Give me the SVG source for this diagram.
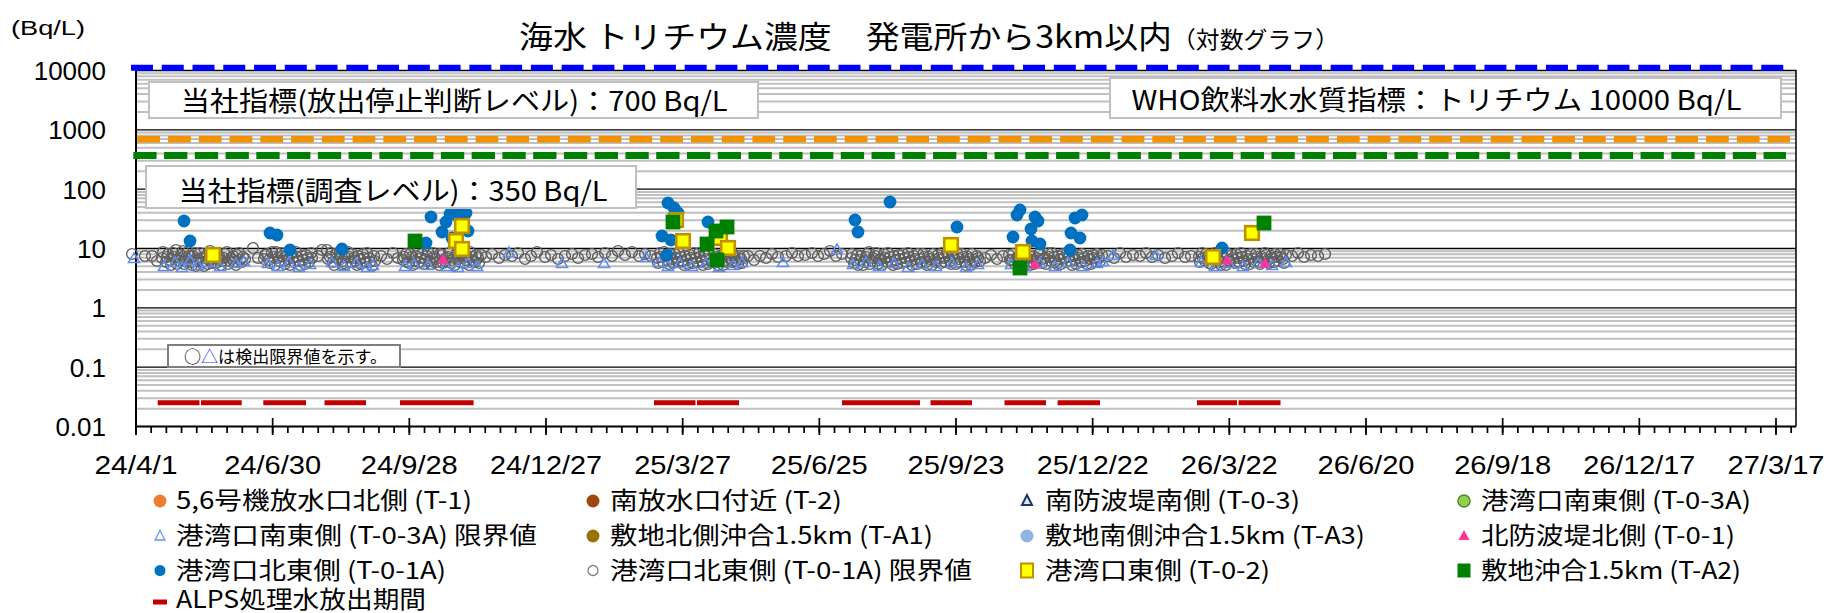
<svg xmlns="http://www.w3.org/2000/svg" width="1829" height="613" viewBox="0 0 1829 613">
<style>
text{font-family:"Liberation Sans","Noto Sans CJK JP",sans-serif;fill:#000}
.jp{font-family:"Noto Sans CJK JP","Noto Sans",sans-serif}
.ax{font-size:26px;text-anchor:end}
.xl{font-size:26px;text-anchor:middle}
.lg{font-size:24px}
.box{fill:#fff;stroke:#c0c0c0;stroke-width:2}
.s{fill:none;stroke:none}
</style>
<defs>
<marker id="mo" markerUnits="userSpaceOnUse" markerWidth="16" markerHeight="16" refX="8" refY="8" overflow="visible"><circle cx="8" cy="8" r="5.4" fill="none" stroke="#5f5f5f" stroke-width="1.4"/></marker>
<marker id="mt" markerUnits="userSpaceOnUse" markerWidth="16" markerHeight="16" refX="8" refY="8" overflow="visible"><path d="M8 3L13.6 12.6H2.4Z" fill="none" stroke="#5f8ef0" stroke-width="1.5"/></marker>
<marker id="mb" markerUnits="userSpaceOnUse" markerWidth="16" markerHeight="16" refX="8" refY="8" overflow="visible"><circle cx="8" cy="8" r="6.4" fill="#0070c0"/></marker>
<marker id="mp" markerUnits="userSpaceOnUse" markerWidth="16" markerHeight="16" refX="8" refY="8" overflow="visible"><path d="M8 2.6L13.8 12.6H2.2Z" fill="#ff3399"/></marker>
<marker id="my" markerUnits="userSpaceOnUse" markerWidth="16" markerHeight="16" refX="8" refY="8" overflow="visible"><rect x="1.2" y="1.2" width="13.6" height="13.6" fill="#ffff00" stroke="#bf9000" stroke-width="2.6"/></marker>
<marker id="mg" markerUnits="userSpaceOnUse" markerWidth="16" markerHeight="16" refX="8" refY="8" overflow="visible"><rect x="0.6" y="0.6" width="14.8" height="14.8" fill="#008000"/></marker>
</defs>
<rect width="1829" height="613" fill="#fff"/>

<g id="title">
<text class="jp" x="519" y="48" font-size="31" textLength="653" lengthAdjust="spacingAndGlyphs">海水 トリチウム濃度　発電所から3km以内</text>
<text class="jp" x="1172" y="48" font-size="23" textLength="167" lengthAdjust="spacingAndGlyphs">（対数グラフ）</text>
</g>
<text id="unit" x="11" y="34.5" font-size="20" textLength="74" lengthAdjust="spacingAndGlyphs">(Bq/L)</text>

<g id="gridlines">
<path fill="none" stroke="#c0c0c0" stroke-width="2" d="M136 73.21H1796M136 76.25H1796M136 79.69H1796M136 83.66H1796M136 88.36H1796M136 94.11H1796M136 101.52H1796M136 111.97H1796M136 132.54H1796M136 135.58H1796M136 139.02H1796M136 142.99H1796M136 147.69H1796M136 153.44H1796M136 160.85H1796M136 171.3H1796M136 191.88H1796M136 194.92H1796M136 198.36H1796M136 202.33H1796M136 207.03H1796M136 212.78H1796M136 220.19H1796M136 230.64H1796M136 251.21H1796M136 254.25H1796M136 257.69H1796M136 261.66H1796M136 266.36H1796M136 272.11H1796M136 279.52H1796M136 289.97H1796M136 310.54H1796M136 313.58H1796M136 317.02H1796M136 320.99H1796M136 325.69H1796M136 331.44H1796M136 338.85H1796M136 349.3H1796M136 369.88H1796M136 372.92H1796M136 376.36H1796M136 380.33H1796M136 385.03H1796M136 390.78H1796M136 398.19H1796M136 408.64H1796"/>
<path fill="none" stroke="#000" stroke-width="1.3" d="M136 129.83H1796M136 189.17H1796M136 248.5H1796M136 307.83H1796M136 367.17H1796"/>
</g>

<g id="frame">
<path fill="none" stroke="#000" stroke-width="1.5" d="M136 70.5H1796V426.5"/>
<path fill="none" stroke="#000" stroke-width="2" d="M136 70.5V435M136 426.5H1796"/>
<line x1="135.15" y1="430" x2="1796" y2="430" stroke="#000" stroke-width="6" stroke-dasharray="1.7 13.485"/>
<line x1="135.15" y1="426.5" x2="1796" y2="426.5" stroke="#000" stroke-width="17" stroke-dasharray="1.7 134.967"/>
</g>

<g id="yaxis">
<text class="ax" x="106" y="79.8">10000</text>
<text class="ax" x="106" y="139.1">1000</text>
<text class="ax" x="106" y="198.5">100</text>
<text class="ax" x="106" y="257.8">10</text>
<text class="ax" x="106" y="317.1">1</text>
<text class="ax" x="106" y="376.5">0.1</text>
<text class="ax" x="106" y="435.8">0.01</text>
</g>

<g id="xaxis">
<text class="xl" x="136" y="474" textLength="83" lengthAdjust="spacingAndGlyphs">24/4/1</text>
<text class="xl" x="272.7" y="474" textLength="97" lengthAdjust="spacingAndGlyphs">24/6/30</text>
<text class="xl" x="409.3" y="474" textLength="97" lengthAdjust="spacingAndGlyphs">24/9/28</text>
<text class="xl" x="546" y="474" textLength="112" lengthAdjust="spacingAndGlyphs">24/12/27</text>
<text class="xl" x="682.7" y="474" textLength="97" lengthAdjust="spacingAndGlyphs">25/3/27</text>
<text class="xl" x="819.3" y="474" textLength="97" lengthAdjust="spacingAndGlyphs">25/6/25</text>
<text class="xl" x="956" y="474" textLength="97" lengthAdjust="spacingAndGlyphs">25/9/23</text>
<text class="xl" x="1092.7" y="474" textLength="112" lengthAdjust="spacingAndGlyphs">25/12/22</text>
<text class="xl" x="1229.3" y="474" textLength="97" lengthAdjust="spacingAndGlyphs">26/3/22</text>
<text class="xl" x="1366" y="474" textLength="97" lengthAdjust="spacingAndGlyphs">26/6/20</text>
<text class="xl" x="1502.7" y="474" textLength="97" lengthAdjust="spacingAndGlyphs">26/9/18</text>
<text class="xl" x="1639.3" y="474" textLength="112" lengthAdjust="spacingAndGlyphs">26/12/17</text>
<text class="xl" x="1776" y="474" textLength="97" lengthAdjust="spacingAndGlyphs">27/3/17</text>
</g>

<g id="thresholds">
<line x1="131" y1="67.8" x2="1784" y2="67.8" stroke="#0000ff" stroke-width="6" stroke-dasharray="22 8.76"/>
<line x1="137.3" y1="139.2" x2="1790" y2="139.2" stroke="#f39200" stroke-width="6.5" stroke-dasharray="22.7 8.06"/>
<line x1="133.3" y1="155.4" x2="1786" y2="155.4" stroke="#008000" stroke-width="7" stroke-dasharray="23.3 7.46"/>
</g>

<g id="alps-periods">
<path fill="none" stroke="#c00000" stroke-width="5" d="M157.7 402.8H199.5M201 402.8H241.7M263.3 402.8H306M324.5 402.8H366M400 402.8H473.6M654 402.8H695.5M697 402.8H739M842 402.8H920M930.5 402.8H972M1004.5 402.8H1046M1057.6 402.8H1100M1197 402.8H1237M1238.5 402.8H1280.5"/>
</g>

<g id="data">
<polyline id="t01a-limit" class="s" marker-start="url(#mo)" marker-mid="url(#mo)" marker-end="url(#mo)" points="132,254 145,256 152,256 157,261 162,258 166,262 168,254 171,265 174,257 176,250 179,261 181,255 184,264 186,258 188,252 191,262 193,256 196,266 198,259 200,253 203,262 205,257 208,264 210,251 213,259 216,263 219,256 222,261 225,254 228,264 231,258 234,262 237,255 240,260 243,257 253,248 258,258 264,259 267,254 270,263 273,257 276,252 279,261 282,256 285,264 288,259 291,253 294,262 297,257 300,265 303,260 306,255 309,262 312,258 318,256 322,250 327,250 330,257 333,262 336,254 339,260 342,264 345,257 348,252 351,262 354,258 357,265 360,259 363,254 366,262 369,258 372,266 375,261 381,256 387,259 393,253 398,258 403,260 406,254 409,263 412,257 415,261 418,252 421,258 424,264 427,256 430,261 433,253 436,259 439,265 442,255 445,261 448,257 451,263 454,258 457,253 460,262 463,256 466,260 469,265 472,257 475,262 478,258 481,255 486,257 492,254 499,258 505,255 512,256 518,253 525,259 531,256 537,252 545,257 551,255 558,259 565,256 572,254 578,258 585,255 592,254 598,257 605,253 612,256 618,251 625,255 632,252 639,256 645,254 651,256 657,258 660,253 663,262 666,256 669,264 672,259 675,254 678,262 681,257 684,265 687,260 690,255 693,263 696,258 699,253 702,261 705,256 708,264 711,259 714,254 717,262 720,257 723,265 726,260 729,255 732,262 735,258 738,264 741,259 744,256 748,256 754,260 760,256 766,258 772,254 778,257 786,256 792,253 798,256 805,255 812,253 818,256 824,254 830,251 836,256 842,254 851,258 854,263 857,255 860,260 863,265 866,257 869,252 872,261 875,256 878,264 881,259 884,254 887,262 890,257 893,265 896,260 899,255 902,263 905,258 908,253 911,261 914,256 917,264 920,259 923,254 926,262 929,257 932,265 935,260 938,255 941,263 944,258 947,253 950,261 953,256 956,264 959,259 962,254 965,262 968,257 971,265 974,260 977,256 980,261 985,258 991,255 997,259 1003,256 1009,255 1012,260 1015,264 1018,257 1021,252 1024,262 1027,258 1030,265 1033,256 1036,261 1039,254 1042,263 1045,258 1048,253 1051,261 1054,257 1057,264 1060,259 1063,254 1066,262 1069,257 1072,265 1075,260 1078,255 1081,262 1084,258 1087,264 1090,259 1093,255 1096,262 1099,258 1102,255 1108,256 1114,258 1120,253 1126,257 1133,255 1140,256 1146,253 1152,257 1158,255 1165,258 1172,256 1178,253 1185,257 1191,256 1199,257 1202,253 1205,261 1208,256 1211,264 1214,259 1217,254 1220,262 1223,257 1226,265 1229,260 1232,255 1235,263 1238,258 1241,253 1244,261 1247,256 1250,264 1253,259 1256,254 1259,262 1262,257 1265,253 1268,260 1271,256 1274,262 1277,257 1280,254 1283,259 1286,255 1292,256 1298,253 1304,257 1311,255 1318,256 1325,254 163,252 167,257 170,260 173,253 177,264 180,258 183,251 185,261 189,256 192,265 195,253 197,261 201,258 204,266 207,255 209,260 212,263 215,254 218,259 221,265 224,258 227,252 230,261 233,256 236,265 239,253 242,262 245,259 265,255 269,260 272,252 275,265 278,258 281,253 284,261 287,256 290,265 293,258 296,252 299,261 302,256 305,264 308,258 311,253 328,259 331,253 334,265 337,258 340,252 343,261 346,264 349,257 352,254 355,261 358,256 361,264 364,258 367,253 370,262 374,256 404,257 407,262 410,254 413,265 416,256 419,262 422,254 425,259 428,252 431,264 434,257 437,262 440,254 443,263 446,258 449,253 452,260 455,265 458,259 461,254 464,263 467,257 470,252 473,261 476,255 479,263 658,263 661,257 664,252 667,260 670,254 673,263 676,258 679,253 682,261 685,256 688,264 691,258 694,253 697,262 700,257 703,265 706,259 709,254 712,262 715,257 718,265 721,259 724,253 727,262 730,258 733,254 736,261 739,256 742,263 852,254 855,260 858,265 861,256 864,262 867,254 870,264 873,258 876,253 879,260 882,265 885,258 888,253 891,262 894,256 897,264 900,259 903,254 906,262 909,257 912,265 915,259 918,254 921,262 924,257 927,265 930,259 933,254 936,262 939,258 942,253 945,262 948,256 951,264 954,258 957,253 960,262 963,257 966,265 969,259 972,254 975,262 978,258 1010,260 1013,254 1016,259 1019,264 1022,257 1025,253 1028,262 1031,257 1034,264 1037,258 1040,253 1043,259 1046,264 1049,257 1052,253 1055,262 1058,256 1061,264 1064,258 1067,253 1070,261 1073,256 1076,264 1079,258 1082,254 1085,261 1088,256 1091,264 1094,258 1097,254 1100,261 1200,262 1203,258 1206,254 1209,263 1212,257 1215,253 1218,260 1221,265 1224,258 1227,253 1230,262 1233,258 1236,254 1239,262 1242,257 1245,264 1248,259 1251,254 1254,262 1257,257 1260,264 1263,259 1266,255 1269,263 1272,258 1275,254 1278,261 1281,257 1284,263"/>
<polyline id="t03a-limit" class="s" marker-start="url(#mt)" marker-mid="url(#mt)" marker-end="url(#mt)" points="134,258 164,266 175,262 182,267 190,260 198,265 207,262 220,266 236,263 244,261 268,263 278,266 289,262 299,267 310,264 332,262 344,266 356,263 367,267 373,265 405,266 414,264 428,265 446,266 458,267 468,263 477,266 509,252 562,263 604,263 646,257 659,262 668,266 680,263 692,266 706,263 719,267 733,265 742,262 783,262 837,249 853,264 866,262 879,266 894,263 908,267 922,264 936,266 952,263 966,267 978,264 1011,264 1024,266 1040,263 1055,266 1068,262 1083,266 1097,263 1103,261 1113,255 1156,255 1201,262 1215,266 1229,263 1243,266 1258,263 1272,265 1286,262"/>
<polyline id="t01a" class="s" marker-start="url(#mb)" marker-mid="url(#mb)" marker-end="url(#mb)" points="184,221 190,241 270,233 277,235 290,250 342,249 431,217 426,243 442,232 446,222 450,214 455,210 459,218 462,226 452,238 466,213 468,231 457,245 668,203 678,213 662,236 671,240 667,255 708,222 674,208 855,220 858,232 890,202 957,227 1020,210 1017,215 1035,217 1038,221 1031,229 1013,237 1032,241 1075,218 1082,215 1071,233 1080,238 1070,250 1040,244 1222,248"/>
<polyline id="t01" class="s" marker-start="url(#mp)" marker-mid="url(#mp)" marker-end="url(#mp)" points="443,259 1035,264 1227,260 1265,263"/>
<polyline id="t02" class="s" marker-start="url(#my)" marker-mid="url(#my)" marker-end="url(#my)" points="213,255 462,226 456,241 462,249 676,220 683,241 720,238 728,248 951,245 1023,252 1213,257 1252,233"/>
<polyline id="ta2" class="s" marker-start="url(#mg)" marker-mid="url(#mg)" marker-end="url(#mg)" points="415,241 673,222 727,227 716,231 707,244 717,260 1020,268 1264,223"/>
</g>

<g id="box-stop">
<rect class="box" x="149" y="82" width="609" height="36"/>
<text class="jp" x="180.7" y="111" font-size="27" textLength="547" lengthAdjust="spacingAndGlyphs">当社指標(放出停止判断レベル)：700 Bq/L</text>
</g>
<g id="box-survey">
<rect class="box" x="146" y="166" width="490" height="42"/>
<text class="jp" x="178.6" y="201" font-size="27" textLength="429" lengthAdjust="spacingAndGlyphs">当社指標(調査レベル)：350 Bq/L</text>
</g>
<g id="box-who">
<rect class="box" x="1110" y="78" width="671" height="40"/>
<text class="jp" x="1131.5" y="110" font-size="27" textLength="610" lengthAdjust="spacingAndGlyphs">WHO飲料水水質指標：トリチウム 10000 Bq/L</text>
</g>
<g id="box-note">
<rect x="168" y="345" width="232" height="22" fill="#fff" stroke="#7f7f7f" stroke-width="2"/>
<text class="jp" x="184" y="363" font-size="17" textLength="203" lengthAdjust="spacingAndGlyphs">○<tspan fill="#3c3cff">△</tspan>は検出限界値を示す。</text>
</g>

<g id="legend">
<g id="lg-t1"><circle cx="160" cy="501" r="6.5" fill="#ed7d31"/><text class="jp lg" x="176" y="509" textLength="296" lengthAdjust="spacingAndGlyphs">5,6号機放水口北側 (T-1)</text></g>
<g id="lg-t2"><circle cx="593" cy="501" r="6.5" fill="#9e480e"/><text class="jp lg" x="610" y="509" textLength="232" lengthAdjust="spacingAndGlyphs">南放水口付近 (T-2)</text></g>
<g id="lg-t03"><path d="M1027 495L1032 505H1022Z" fill="#dbe6f6" stroke="#1f3864" stroke-width="2"/><text class="jp lg" x="1045" y="509" textLength="255" lengthAdjust="spacingAndGlyphs">南防波堤南側 (T-0-3)</text></g>
<g id="lg-t03a"><circle cx="1464" cy="501" r="6" fill="#8fd14f" stroke="#4f8a2b" stroke-width="1.5"/><text class="jp lg" x="1481" y="509" textLength="270" lengthAdjust="spacingAndGlyphs">港湾口南東側 (T-0-3A)</text></g>
<g id="lg-t03a-limit"><path d="M160 530.5L165 540H155Z" fill="#fff" stroke="#6a96ee" stroke-width="1.3"/><text class="jp lg" x="176" y="544" textLength="361" lengthAdjust="spacingAndGlyphs">港湾口南東側 (T-0-3A) 限界値</text></g>
<g id="lg-ta1"><circle cx="593" cy="536" r="6.5" fill="#997300"/><text class="jp lg" x="610" y="544" textLength="323" lengthAdjust="spacingAndGlyphs">敷地北側沖合1.5km (T-A1)</text></g>
<g id="lg-ta3"><circle cx="1027" cy="536" r="6.5" fill="#8fb4e3"/><text class="jp lg" x="1045" y="544" textLength="320" lengthAdjust="spacingAndGlyphs">敷地南側沖合1.5km (T-A3)</text></g>
<g id="lg-t01"><path d="M1464 530L1469.5 540H1458.5Z" fill="#ff3399"/><text class="jp lg" x="1481" y="544" textLength="254" lengthAdjust="spacingAndGlyphs">北防波堤北側 (T-0-1)</text></g>
<g id="lg-t01a"><circle cx="160" cy="570.5" r="5.5" fill="#0070c0"/><text class="jp lg" x="176" y="578.5" textLength="270" lengthAdjust="spacingAndGlyphs">港湾口北東側 (T-0-1A)</text></g>
<g id="lg-t01a-limit"><circle cx="593" cy="570.5" r="5" fill="#fff" stroke="#7f7f7f" stroke-width="1.3"/><text class="jp lg" x="610" y="578.5" textLength="362" lengthAdjust="spacingAndGlyphs">港湾口北東側 (T-0-1A) 限界値</text></g>
<g id="lg-t02"><rect x="1021" y="563.5" width="12" height="14" fill="#ffff00" stroke="#bf9000" stroke-width="2"/><text class="jp lg" x="1045" y="578.5" textLength="225" lengthAdjust="spacingAndGlyphs">港湾口東側 (T-0-2)</text></g>
<g id="lg-ta2"><rect x="1457.5" y="563.5" width="13" height="14" fill="#008000"/><text class="jp lg" x="1481" y="578.5" textLength="260" lengthAdjust="spacingAndGlyphs">敷地沖合1.5km (T-A2)</text></g>
<g id="lg-alps"><path d="M153 602H167" stroke="#c00000" stroke-width="5"/><text class="jp lg" x="176" y="607.5" font-size="23" textLength="250" lengthAdjust="spacingAndGlyphs">ALPS処理水放出期間</text></g>
</g>
</svg>
